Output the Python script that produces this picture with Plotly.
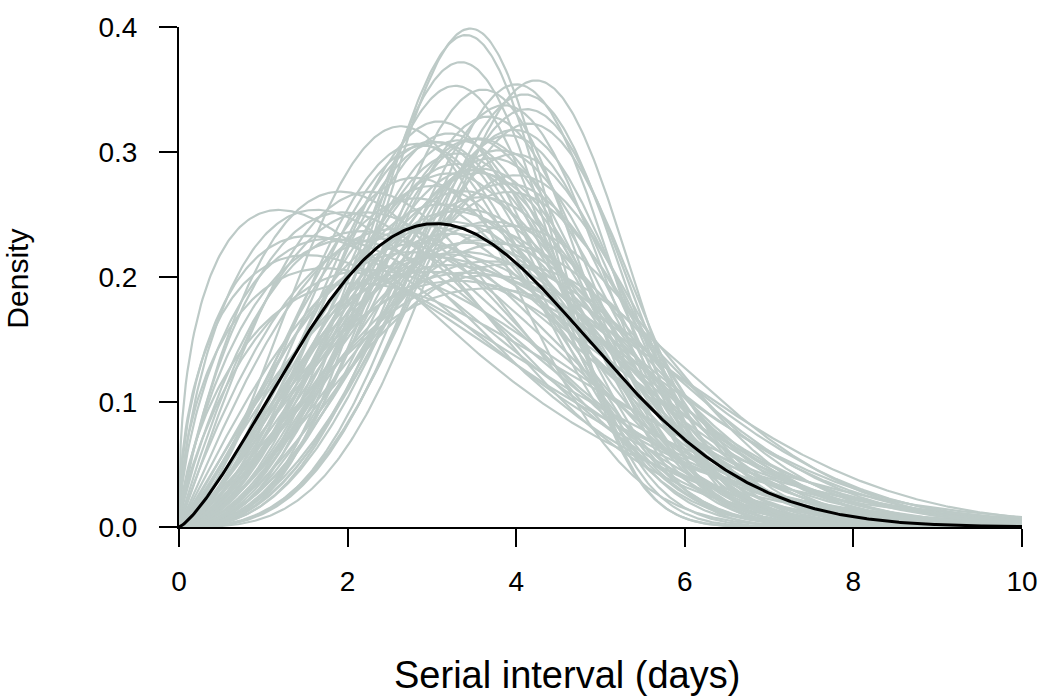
import numpy as np
import plotly.graph_objects as go

# Weibull parameters (shape, scale) of the sampled serial-interval densities (grey)
grey_shape = [
    1.4, 1.5, 1.6, 1.6, 1.8, 1.7, 1.5, 1.8, 1.9, 1.7, 2.0, 1.6, 1.45, 1.9, 1.75,
    2.55, 2.2, 2.0, 2.3, 2.4, 2.2, 2.5, 2.6, 2.8, 2.1, 2.3, 2.4, 2.7, 2.0, 2.5,
    2.6, 2.2, 2.8, 2.1, 2.4, 2.7, 2.3, 2.5, 2.6, 2.2, 2.9, 2.0, 2.4, 2.7, 2.3,
    2.5, 2.8, 2.1, 2.65, 2.75, 2.83, 2.45, 2.35, 2.15, 2.55,
    3.9, 3.8, 3.55, 3.33, 3.6, 4.0, 4.25, 2.93, 2.95, 3.15, 3.3, 3.17, 3.25,
    3.05, 2.95, 2.9, 4.0, 3.5, 3.1, 3.8, 3.0, 3.4, 3.7, 3.2, 3.0, 3.6, 3.9, 3.45,
]
grey_scale = [
    2.9, 3.2, 3.0, 3.3, 3.0, 3.4, 3.6, 3.4, 3.3, 3.8, 3.2, 3.9, 3.4, 3.6, 3.15,
    3.2, 4.8, 4.2, 4.3, 4.0, 3.8, 4.4, 4.1, 4.2, 4.5, 3.6, 4.6, 3.8, 3.6, 3.7,
    4.6, 4.2, 3.6, 3.9, 3.5, 4.4, 4.7, 4.0, 3.4, 4.5, 4.0, 3.9, 4.3, 4.0, 3.9,
    4.8, 4.6, 4.1, 3.47, 3.54, 3.85, 3.85, 4.1, 4.3, 4.25,
    3.73, 3.69, 3.67, 3.65, 3.95, 4.3, 4.51, 3.55, 3.68, 3.95, 4.24, 4.18, 4.48,
    4.45, 4.09, 3.82, 4.4, 4.3, 4.4, 4.5, 3.8, 4.4, 4.2, 4.0, 4.1, 4.35, 4.45, 4.05,
]
# Fitted (black) curve
best_shape = 2.3
best_scale = 3.9

x_range = [0, 10]
y_ticks = [0.0, 0.1, 0.2, 0.3, 0.4]
y_tick_text = ["0.0", "0.1", "0.2", "0.3", "0.4"]
x_ticks = [0, 2, 4, 6, 8, 10]

x = np.linspace(0, 10, 501)


def weibull_pdf(xv, k, lam):
    z = xv / lam
    return (k / lam) * np.power(z, k - 1) * np.exp(-np.power(z, k))


GREY = "rgb(189,202,199)"
FONT = "Liberation Sans, Arial, Helvetica, sans-serif"

fig = go.Figure()
for k, lam in zip(grey_shape, grey_scale):
    fig.add_trace(go.Scatter(x=x, y=weibull_pdf(x, k, lam), mode="lines",
                             line=dict(color=GREY, width=2.2), hoverinfo="skip",
                             showlegend=False))
fig.add_trace(go.Scatter(x=x, y=weibull_pdf(x, best_shape, best_scale), mode="lines",
                         line=dict(color="black", width=3), showlegend=False))

fig.update_layout(
    width=1050, height=698, autosize=False,
    margin=dict(l=179, r=24, t=24, b=171, pad=0),
    paper_bgcolor="white", plot_bgcolor="white",
    font=dict(family=FONT, size=28, color="black"),
    xaxis=dict(range=x_range, tickvals=x_ticks, showgrid=False, zeroline=False,
               showline=True, linecolor="black", linewidth=2, ticks="outside",
               ticklen=18, tickwidth=2, tickcolor="black", ticklabelstandoff=10,
               tickfont=dict(size=28)),
    yaxis=dict(range=[0, 0.4], tickvals=y_ticks, ticktext=y_tick_text, showgrid=False,
               zeroline=False, showline=True, linecolor="black", linewidth=2,
               ticks="outside", ticklen=18, tickwidth=2, tickcolor="black",
               ticklabelstandoff=16, tickfont=dict(size=28)),
    annotations=[
        dict(text="Density", xref="paper", yref="paper", x=-0.192, y=0.497,
             textangle=-90, showarrow=False, font=dict(size=30),
             xanchor="center", yanchor="middle"),
        dict(text="Serial interval (days)", xref="paper", yref="paper", x=0.46,
             y=-0.296, showarrow=False, font=dict(size=38),
             xanchor="center", yanchor="middle"),
    ],
)

fig.write_html("out.html", config={"displayModeBar": False},
               post_script="document.body.style.margin='0';document.body.style.overflow='hidden';")
